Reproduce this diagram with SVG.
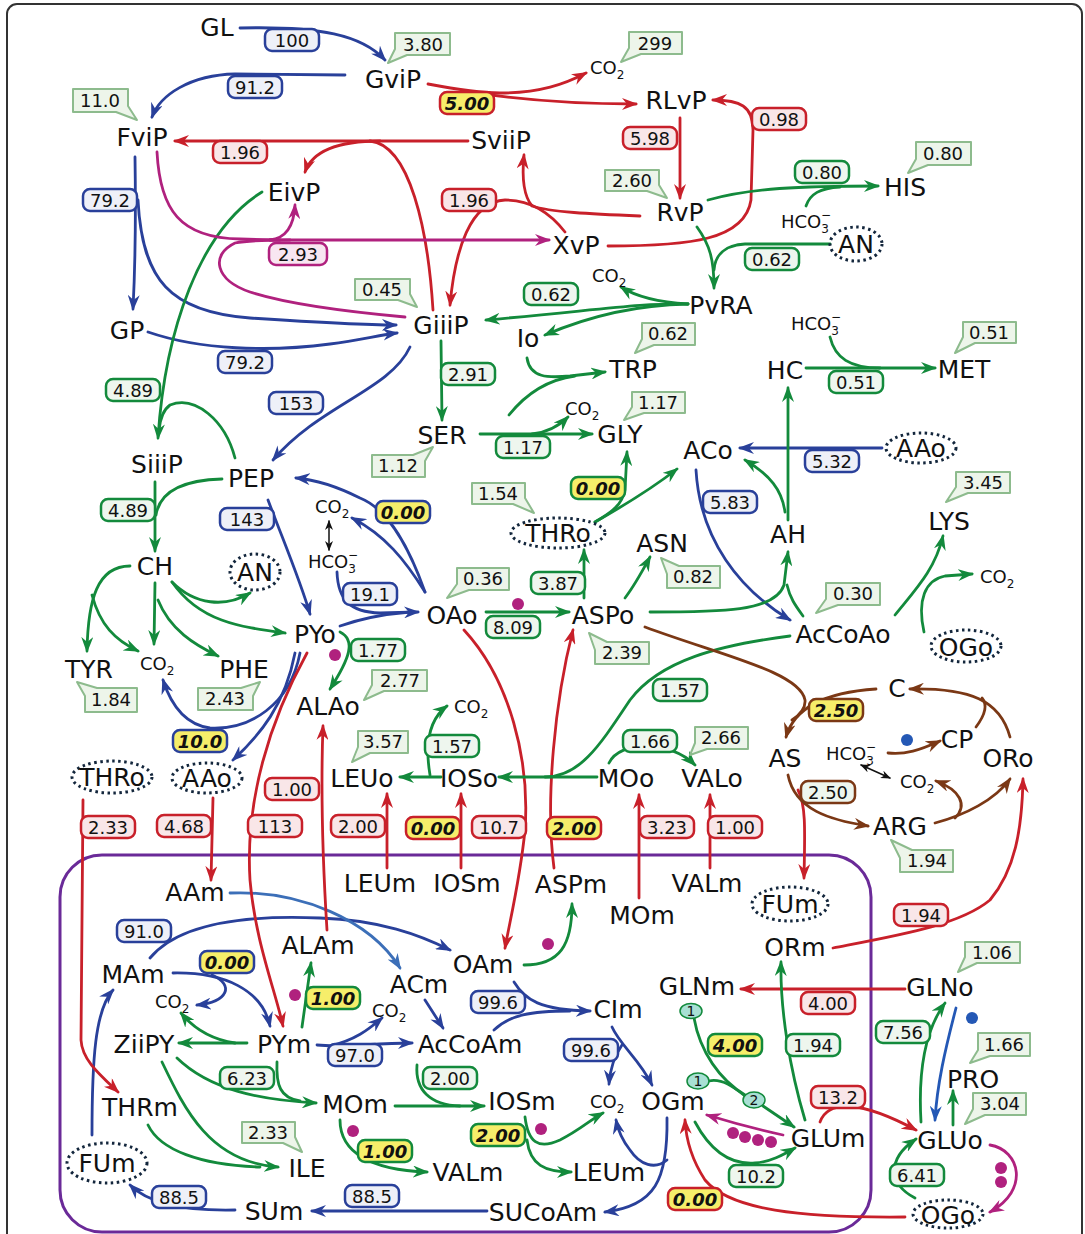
<svg xmlns="http://www.w3.org/2000/svg" width="1085" height="1234" viewBox="0 0 1085 1234">
<defs>
<marker id="ab" viewBox="0 0 16 12" refX="14" refY="6" markerWidth="16" markerHeight="12" markerUnits="userSpaceOnUse" orient="auto"><path d="M0,0 L16,6 L0,12 L5,6 Z" fill="#29409a"/></marker>
<marker id="al" viewBox="0 0 16 12" refX="14" refY="6" markerWidth="16" markerHeight="12" markerUnits="userSpaceOnUse" orient="auto"><path d="M0,0 L16,6 L0,12 L5,6 Z" fill="#3c6fb8"/></marker>
<marker id="ac" viewBox="0 0 16 12" refX="14" refY="6" markerWidth="16" markerHeight="12" markerUnits="userSpaceOnUse" orient="auto"><path d="M0,0 L16,6 L0,12 L5,6 Z" fill="#2458b5"/></marker>
<marker id="ar" viewBox="0 0 16 12" refX="14" refY="6" markerWidth="16" markerHeight="12" markerUnits="userSpaceOnUse" orient="auto"><path d="M0,0 L16,6 L0,12 L5,6 Z" fill="#c8202a"/></marker>
<marker id="ag" viewBox="0 0 16 12" refX="14" refY="6" markerWidth="16" markerHeight="12" markerUnits="userSpaceOnUse" orient="auto"><path d="M0,0 L16,6 L0,12 L5,6 Z" fill="#138a3c"/></marker>
<marker id="am" viewBox="0 0 16 12" refX="14" refY="6" markerWidth="16" markerHeight="12" markerUnits="userSpaceOnUse" orient="auto"><path d="M0,0 L16,6 L0,12 L5,6 Z" fill="#b0217e"/></marker>
<marker id="an" viewBox="0 0 16 12" refX="14" refY="6" markerWidth="16" markerHeight="12" markerUnits="userSpaceOnUse" orient="auto"><path d="M0,0 L16,6 L0,12 L5,6 Z" fill="#7b3815"/></marker>
<marker id="ak" viewBox="0 0 10 8" refX="9" refY="4" markerWidth="10" markerHeight="8" markerUnits="userSpaceOnUse" orient="auto-start-reverse"><path d="M0,0 L10,4 L0,8 L3,4 Z" fill="#111"/></marker>
</defs>
<style>
text{font-family:"DejaVu Sans","Liberation Sans",sans-serif;fill:#111}
.n{font-size:25px;text-anchor:middle}
.s{font-size:18px}
.sub{font-size:12px}
.v{font-size:18px;text-anchor:middle}
.vy{font-size:18px;text-anchor:middle;font-weight:bold;font-style:italic}
.c{fill:none;stroke-width:2.8;stroke-linecap:round}
.cb{stroke:#29409a}
.cl{stroke:#3c6fb8}
.cc{stroke:#2458b5}
.cr{stroke:#c8202a}
.cg{stroke:#138a3c}
.cm{stroke:#b0217e}
.cn{stroke:#7b3815}
.ck{stroke:#111;stroke-width:1.5}
.bb{fill:#eef0f8;stroke:#29409a;stroke-width:2.5}
.br{fill:#f9e6e8;stroke:#c8202a;stroke-width:2.5}
.bg{fill:#eef6ee;stroke:#138a3c;stroke-width:2.5}
.bm{fill:#f8e6f1;stroke:#b0217e;stroke-width:2.5}
.bn{fill:#eef6ee;stroke:#7b3815;stroke-width:2.5}
.by{fill:#f6ee6a}
.co{fill:#edf5ea;stroke:#8dbb8d;stroke-width:2;stroke-linejoin:round}
.de{fill:none;stroke:#13263c;stroke-width:3;stroke-dasharray:2.5 3.5}
.dm{fill:#b0217e}
.db{fill:#2458b5}
.k1{fill:#a8e0d4;stroke:#138a3c;stroke-width:1.5}
.kt{font-size:14px;text-anchor:middle}
</style>
<rect x="7" y="4" width="1075" height="1260" rx="10" fill="#fff" stroke="#333" stroke-width="2"/>
<rect x="60" y="855" width="811" height="377" rx="42" fill="none" stroke="#6a2a98" stroke-width="3"/>

<g id="connectors">
<!-- blue -->
<g class="c cb" marker-end="url(#ab)">
<path d="M240,28 C320,26 362,35 385,60"/>
<path d="M345,75 L235,74 C190,75 160,95 152,117"/>
<path d="M135,157 C136,220 135,270 133,309"/>
<path d="M138,200 C142,280 170,312 250,318 C310,322 360,325 396,325"/>
<path d="M148,332 C200,350 270,352 330,344 C360,340 380,335 397,333"/>
<path d="M410,347 C390,390 320,405 273,460"/>
<path d="M268,500 C285,545 300,580 310,614"/>
<path d="M425,592 C410,550 390,510 360,498 C340,488 320,480 296,478"/>
<path d="M425,592 C405,560 385,535 352,518"/>
<path d="M337,572 C338,600 350,612 380,613 L418,612"/>
<path d="M295,653 C285,705 260,735 233,760"/>
<path d="M300,653 C290,705 250,730 210,728 C188,725 172,708 163,680"/>
<path d="M882,448 L740,448"/>
<path d="M696,470 C700,540 740,590 790,620"/>
<path d="M150,958 C180,922 250,915 320,918 C380,920 420,935 450,950"/>
<path d="M173,973 C225,972 262,990 270,1026"/>
<path d="M212,975 C235,985 228,1002 197,1005"/>
<path d="M317,1045 C345,1048 370,1043 412,1043"/>
<path d="M330,1046 C355,1040 368,1030 382,1018"/>
<path d="M425,1000 L443,1028"/>
<path d="M514,982 C525,1000 540,1010 590,1011"/>
<path d="M612,1027 C620,1045 640,1060 652,1085"/>
<path d="M622,1045 C615,1055 610,1070 609,1084"/>
<path d="M667,1118 C668,1180 655,1206 605,1212"/>
<path d="M667,1160 C655,1170 640,1165 630,1150 C622,1140 618,1130 616,1120"/>
<path d="M487,1211 L312,1211"/>
<path d="M235,1210 C190,1211 150,1205 130,1185"/>
<path d="M92,1135 C92,1060 95,1010 113,990"/>
</g>
<g class="c cb">
<path d="M340,626 C360,619 385,614 410,612"/>
<path d="M494,1030 C510,1015 530,1011 570,1011"/>
</g>
<path class="c cl" marker-end="url(#al)" d="M230,893 C300,890 370,920 400,968"/>
<path class="c cc" marker-end="url(#ac)" d="M956,1008 C945,1050 937,1085 935,1120"/>
<!-- red -->
<g class="c cr" marker-end="url(#ar)">
<path d="M428,84 C460,90 480,93 500,93 C540,93 565,84 586,73"/>
<path d="M470,92 C520,100 580,104 636,104"/>
<path d="M608,246 C690,246 745,240 751,200 L753,130 C753,106 740,100 713,100"/>
<path d="M680,118 L680,198"/>
<path d="M468,141 L175,141"/>
<path d="M380,141 C335,141 312,152 305,172"/>
<path d="M640,216 C590,214 550,212 532,206 C523,195 522,175 524,155"/>
<path d="M565,232 C548,210 528,200 505,200 C470,202 455,250 450,305"/>
<path d="M213,798 L211,880"/>
<path d="M83,800 L81,1040 C82,1060 100,1075 118,1092"/>
<path d="M307,653 C270,720 245,800 250,880 C255,940 275,990 283,1026"/>
<path d="M327,930 C322,850 321,780 323,726"/>
<path d="M387,868 L387,794"/>
<path d="M461,868 L461,794"/>
<path d="M554,868 C545,800 555,700 573,630"/>
<path d="M464,630 C510,680 530,760 525,830 C520,880 510,920 505,948"/>
<path d="M639,898 L639,795"/>
<path d="M710,868 L710,795"/>
<path d="M798,790 C806,805 805,830 804,878"/>
<path d="M833,948 C900,935 960,925 990,900 C1015,870 1022,830 1023,779"/>
<path d="M905,989 L741,989"/>
<path d="M820,1122 C828,1100 860,1100 916,1130"/>
<path d="M905,1217 C800,1218 730,1210 705,1180 C692,1160 686,1140 685,1120"/>
</g>
<path class="c cr" d="M433,310 C428,230 410,145 370,141"/>
<!-- green -->
<g class="c cg" marker-end="url(#ag)">
<path d="M262,192 C200,230 165,330 158,438"/>
<path d="M155,482 L155,551"/>
<path d="M130,566 C97,566 88,600 87,651"/>
<path d="M92,595 C100,625 115,640 138,651"/>
<path d="M155,583 L154,644"/>
<path d="M158,600 C170,630 195,645 218,656"/>
<path d="M172,582 C200,622 240,627 285,633"/>
<path d="M172,582 C195,605 225,608 250,593"/>
<path d="M340,632 C356,640 350,658 330,689"/>
<path d="M708,200 C750,188 800,186 878,186"/>
<path d="M697,227 C710,245 714,260 714,288"/>
<path d="M688,304 C640,303 600,310 486,320"/>
<path d="M688,304 C655,302 635,296 621,287"/>
<path d="M688,304 C630,305 580,320 545,335"/>
<path d="M441,341 L442,420"/>
<path d="M527,358 C530,378 548,378 570,376 L605,372"/>
<path d="M480,434 L592,434"/>
<path d="M532,434 C550,432 560,425 568,417"/>
<path d="M806,368 L935,368"/>
<path d="M788,520 L788,388"/>
<path d="M785,512 C782,490 770,475 745,460"/>
<path d="M595,522 C612,512 622,505 625,490 L627,452"/>
<path d="M595,522 C625,505 650,490 677,469"/>
<path d="M486,612 L569,612"/>
<path d="M584,598 L584,550"/>
<path d="M625,598 C635,585 643,570 650,557"/>
<path d="M650,612 C720,612 775,612 784,585 L788,552"/>
<path d="M895,615 C915,590 935,570 943,536"/>
<path d="M924,632 C917,600 925,580 945,576 L972,574"/>
<path d="M597,777 L499,777"/>
<path d="M441,777 L400,777"/>
<path d="M430,775 C425,745 428,720 447,706"/>
<path d="M609,763 C620,740 670,740 695,765"/>
<path d="M524,965 C560,965 572,945 572,904"/>
<path d="M247,1043 L179,1043"/>
<path d="M235,1043 C215,1040 195,1030 181,1013"/>
<path d="M302,1027 L311,963"/>
<path d="M177,1058 C210,1090 260,1100 316,1103"/>
<path d="M162,1062 C185,1110 210,1162 278,1167"/>
<path d="M395,1106 L484,1106"/>
<path d="M340,1120 C340,1152 370,1170 427,1172"/>
<path d="M525,1117 C528,1142 538,1150 560,1140 C580,1130 590,1120 603,1113"/>
<path d="M527,1140 C530,1165 545,1172 571,1172"/>
<path d="M763,1106 L794,1127"/>
<path d="M805,1120 C790,1070 780,1010 781,962"/>
<path d="M695,1122 C710,1150 730,1165 755,1163 C770,1162 783,1155 795,1148"/>
<path d="M921,1122 C918,1070 925,1030 945,1003"/>
<path d="M953,1125 L953,1091"/>
<path d="M915,1198 C890,1185 885,1160 916,1139"/>
</g>
<g class="c cg">
<path d="M235,458 C225,420 195,395 170,405 C163,410 160,420 159,430"/>
<path d="M222,479 C185,480 160,490 156,515"/>
<path d="M806,206 C810,194 820,188 840,187"/>
<path d="M830,244 L745,244 C725,245 715,255 714,270"/>
<path d="M509,415 C525,395 545,380 575,376"/>
<path d="M830,337 C835,358 850,368 880,368"/>
<path d="M803,616 C795,605 790,598 787,585"/>
<path d="M790,636 C720,645 660,660 630,700 C600,745 580,777 545,777"/>
<path d="M277,1062 C276,1085 280,1098 300,1101"/>
<path d="M148,1125 C160,1150 200,1165 260,1167"/>
<path d="M417,1065 C415,1090 430,1105 460,1106"/>
<path d="M694,1018 C700,1052 720,1080 745,1095"/>
<path d="M709,1081 C722,1078 735,1088 745,1096"/>
</g>
<!-- magenta -->
<g class="c cm">
<path d="M157,152 C160,210 180,238 240,239 L280,240"/>
<path d="M405,317 C350,312 290,305 250,292 C215,280 210,255 235,243 C250,240 270,240 290,240"/>
</g>
<g class="c cm" marker-end="url(#am)">
<path d="M270,240 L549,240"/>
<path d="M270,240 C287,238 294,225 295,205"/>
<path d="M783,1135 C760,1130 730,1122 707,1115"/>
<path d="M990,1145 C1020,1150 1030,1190 990,1212"/>
</g>
<!-- brown -->
<path class="c cn" d="M645,627 C720,655 800,672 805,700 C806,710 798,716 792,720"/>
<path class="c cn" d="M976,727 C985,715 988,705 982,698"/>
<g class="c cn" marker-end="url(#an)">
<path d="M876,689 C830,692 795,705 786,737"/>
<path d="M1010,737 C1000,700 970,688 910,689"/>
<path d="M888,753 C905,755 920,750 940,741"/>
<path d="M788,775 C795,810 830,820 868,826"/>
<path d="M935,823 C965,815 995,800 1010,779"/>
<path d="M955,818 C968,805 960,790 936,781"/>
</g>
<!-- black equilibrium -->
<path class="c ck" marker-start="url(#ak)" marker-end="url(#ak)" d="M329,521 L329,550"/>
<path class="c ck" marker-start="url(#ak)" marker-end="url(#ak)" d="M861,765 L890,778"/>
</g>

<g id="dots">
<circle class="dm" cx="518" cy="604" r="6"/>
<circle class="dm" cx="335" cy="655" r="6"/>
<circle class="dm" cx="548" cy="944" r="6"/>
<circle class="dm" cx="295" cy="995" r="6"/>
<circle class="dm" cx="353" cy="1131" r="6"/>
<circle class="dm" cx="541" cy="1129" r="6"/>
<circle class="dm" cx="733" cy="1133" r="6"/>
<circle class="dm" cx="745" cy="1137" r="6"/>
<circle class="dm" cx="758" cy="1140" r="6"/>
<circle class="dm" cx="771" cy="1142" r="6"/>
<circle class="dm" cx="1001" cy="1168" r="6"/>
<circle class="dm" cx="1001" cy="1182" r="6"/>
<circle class="db" cx="907" cy="740" r="6"/>
<circle class="db" cx="972" cy="1018" r="6"/>
</g>

<g id="stoich">
<ellipse class="k1" cx="691" cy="1011" rx="11" ry="7.5"/><text class="kt" x="691" y="1016">1</text>
<ellipse class="k1" cx="698" cy="1081" rx="11" ry="8"/><text class="kt" x="698" y="1086">1</text>
<ellipse class="k1" cx="754" cy="1100" rx="11" ry="8"/><text class="kt" x="754" y="1105">2</text>
</g>

<g id="fluxes">
<rect class="bb" x="265" y="29" width="54" height="22" rx="7"/><text class="v" x="292" y="46.5">100</text>
<rect class="bb" x="228" y="76" width="54" height="22" rx="7"/><text class="v" x="255" y="93.5">91.2</text>
<rect class="bb" x="83" y="189" width="54" height="22" rx="7"/><text class="v" x="110" y="206.5">79.2</text>
<rect class="bb" x="218" y="351" width="54" height="22" rx="7"/><text class="v" x="245" y="368.5">79.2</text>
<rect class="bb" x="269" y="392" width="54" height="22" rx="7"/><text class="v" x="296" y="409.5">153</text>
<rect class="bb" x="220" y="508" width="54" height="22" rx="7"/><text class="v" x="247" y="525.5">143</text>
<rect class="bb" x="343" y="583" width="54" height="22" rx="7"/><text class="v" x="370" y="600.5">19.1</text>
<rect class="bb" x="805" y="450" width="54" height="22" rx="7"/><text class="v" x="832" y="467.5">5.32</text>
<rect class="bb" x="703" y="491" width="54" height="22" rx="7"/><text class="v" x="730" y="508.5">5.83</text>
<rect class="bb" x="117" y="920" width="54" height="22" rx="7"/><text class="v" x="144" y="937.5">91.0</text>
<rect class="bb" x="328" y="1044" width="54" height="22" rx="7"/><text class="v" x="355" y="1061.5">97.0</text>
<rect class="bb" x="471" y="991" width="54" height="22" rx="7"/><text class="v" x="498" y="1008.5">99.6</text>
<rect class="bb" x="564" y="1039" width="54" height="22" rx="7"/><text class="v" x="591" y="1056.5">99.6</text>
<rect class="bb" x="152" y="1186" width="54" height="22" rx="7"/><text class="v" x="179" y="1203.5">88.5</text>
<rect class="bb" x="345" y="1185" width="54" height="22" rx="7"/><text class="v" x="372" y="1202.5">88.5</text>
<rect class="bb by" x="376" y="501" width="54" height="22" rx="7"/><text class="vy" x="403" y="518.5">0.00</text>
<rect class="bb by" x="173" y="730" width="54" height="22" rx="7"/><text class="vy" x="200" y="747.5">10.0</text>
<rect class="bb by" x="200" y="951" width="54" height="22" rx="7"/><text class="vy" x="227" y="968.5">0.00</text>

<rect class="br" x="213" y="141" width="54" height="22" rx="7"/><text class="v" x="240" y="158.5">1.96</text>
<rect class="br" x="623" y="127" width="54" height="22" rx="7"/><text class="v" x="650" y="144.5">5.98</text>
<rect class="br" x="752" y="108" width="54" height="22" rx="7"/><text class="v" x="779" y="125.5">0.98</text>
<rect class="br" x="442" y="189" width="54" height="22" rx="7"/><text class="v" x="469" y="206.5">1.96</text>
<rect class="br" x="265" y="778" width="54" height="22" rx="7"/><text class="v" x="292" y="795.5">1.00</text>
<rect class="br" x="81" y="816" width="54" height="22" rx="7"/><text class="v" x="108" y="833.5">2.33</text>
<rect class="br" x="157" y="815" width="54" height="22" rx="7"/><text class="v" x="184" y="832.5">4.68</text>
<rect class="br" x="248" y="815" width="54" height="22" rx="7"/><text class="v" x="275" y="832.5">113</text>
<rect class="br" x="331" y="815" width="54" height="22" rx="7"/><text class="v" x="358" y="832.5">2.00</text>
<rect class="br" x="472" y="816" width="54" height="22" rx="7"/><text class="v" x="499" y="833.5">10.7</text>
<rect class="br" x="640" y="816" width="54" height="22" rx="7"/><text class="v" x="667" y="833.5">3.23</text>
<rect class="br" x="708" y="816" width="54" height="22" rx="7"/><text class="v" x="735" y="833.5">1.00</text>
<rect class="br" x="894" y="904" width="54" height="22" rx="7"/><text class="v" x="921" y="921.5">1.94</text>
<rect class="br" x="801" y="992" width="54" height="22" rx="7"/><text class="v" x="828" y="1009.5">4.00</text>
<rect class="br" x="811" y="1086" width="54" height="22" rx="7"/><text class="v" x="838" y="1103.5">13.2</text>
<rect class="br by" x="440" y="92" width="54" height="22" rx="7"/><text class="vy" x="467" y="109.5">5.00</text>
<rect class="br by" x="406" y="817" width="54" height="22" rx="7"/><text class="vy" x="433" y="834.5">0.00</text>
<rect class="br by" x="547" y="817" width="54" height="22" rx="7"/><text class="vy" x="574" y="834.5">2.00</text>
<rect class="br by" x="668" y="1188" width="54" height="22" rx="7"/><text class="vy" x="695" y="1205.5">0.00</text>

<rect class="bg" x="795" y="161" width="54" height="22" rx="7"/><text class="v" x="822" y="178.5">0.80</text>
<rect class="bg" x="745" y="248" width="54" height="22" rx="7"/><text class="v" x="772" y="265.5">0.62</text>
<rect class="bg" x="524" y="283" width="54" height="22" rx="7"/><text class="v" x="551" y="300.5">0.62</text>
<rect class="bg" x="829" y="371" width="54" height="22" rx="7"/><text class="v" x="856" y="388.5">0.51</text>
<rect class="bg" x="106" y="379" width="54" height="22" rx="7"/><text class="v" x="133" y="396.5">4.89</text>
<rect class="bg" x="441" y="363" width="54" height="22" rx="7"/><text class="v" x="468" y="380.5">2.91</text>
<rect class="bg" x="496" y="436" width="54" height="22" rx="7"/><text class="v" x="523" y="453.5">1.17</text>
<rect class="bg" x="101" y="499" width="54" height="22" rx="7"/><text class="v" x="128" y="516.5">4.89</text>
<rect class="bg" x="531" y="572" width="54" height="22" rx="7"/><text class="v" x="558" y="589.5">3.87</text>
<rect class="bg" x="486" y="616" width="54" height="22" rx="7"/><text class="v" x="513" y="633.5">8.09</text>
<rect class="bg" x="351" y="639" width="54" height="22" rx="7"/><text class="v" x="378" y="656.5">1.77</text>
<rect class="bg" x="653" y="679" width="54" height="22" rx="7"/><text class="v" x="680" y="696.5">1.57</text>
<rect class="bg" x="425" y="735" width="54" height="22" rx="7"/><text class="v" x="452" y="752.5">1.57</text>
<rect class="bg" x="623" y="730" width="54" height="22" rx="7"/><text class="v" x="650" y="747.5">1.66</text>
<rect class="bg" x="220" y="1067" width="54" height="22" rx="7"/><text class="v" x="247" y="1084.5">6.23</text>
<rect class="bg" x="423" y="1067" width="54" height="22" rx="7"/><text class="v" x="450" y="1084.5">2.00</text>
<rect class="bg" x="786" y="1034" width="54" height="22" rx="7"/><text class="v" x="813" y="1051.5">1.94</text>
<rect class="bg" x="876" y="1021" width="54" height="22" rx="7"/><text class="v" x="903" y="1038.5">7.56</text>
<rect class="bg" x="729" y="1165" width="54" height="22" rx="7"/><text class="v" x="756" y="1182.5">10.2</text>
<rect class="bg" x="890" y="1164" width="54" height="22" rx="7"/><text class="v" x="917" y="1181.5">6.41</text>
<rect class="bg by" x="571" y="477" width="54" height="22" rx="7"/><text class="vy" x="598" y="494.5">0.00</text>
<rect class="bg by" x="306" y="987" width="54" height="22" rx="7"/><text class="vy" x="333" y="1004.5">1.00</text>
<rect class="bg by" x="358" y="1140" width="54" height="22" rx="7"/><text class="vy" x="385" y="1157.5">1.00</text>
<rect class="bg by" x="471" y="1124" width="54" height="22" rx="7"/><text class="vy" x="498" y="1141.5">2.00</text>
<rect class="bg by" x="708" y="1034" width="54" height="22" rx="7"/><text class="vy" x="735" y="1051.5">4.00</text>

<rect class="bm" x="269" y="243" width="58" height="22" rx="7"/><text class="v" x="298" y="260.5">2.93</text>
<rect class="bn" x="801" y="781" width="54" height="22" rx="7"/><text class="v" x="828" y="798.5">2.50</text>
<rect class="bn by" x="809" y="699" width="54" height="22" rx="7"/><text class="vy" x="836" y="716.5">2.50</text>
</g>

<g id="callouts">
<path class="co" d="M73,89 H128 V106 L137,120 L116,112 H73 Z"/><text class="v" x="100" y="107">11.0</text>
<path class="co" d="M395,33 H450 V55 H407 L388,63 L395,49 Z"/><text class="v" x="423" y="51">3.80</text>
<path class="co" d="M629,32 H682 V54 H641 L621,62 L629,48 Z"/><text class="v" x="655" y="50">299</text>
<path class="co" d="M605,170 H659 V185 L667,198 L647,191 H605 Z"/><text class="v" x="632" y="187">2.60</text>
<path class="co" d="M916,142 H971 V165 H928 L908,173 L916,159 Z"/><text class="v" x="943" y="160">0.80</text>
<path class="co" d="M355,279 H410 V294 L417,307 L398,300 H355 Z"/><text class="v" x="382" y="296">0.45</text>
<path class="co" d="M642,323 H695 V345 H654 L635,353 L642,339 Z"/><text class="v" x="668" y="340">0.62</text>
<path class="co" d="M963,322 H1016 V343 H975 L955,353 L963,337 Z"/><text class="v" x="989" y="339">0.51</text>
<path class="co" d="M632,392 H685 V413 H644 L624,420 L632,407 Z"/><text class="v" x="658" y="409">1.17</text>
<path class="co" d="M372,455 H413 L433,447 L425,461 V477 H372 Z"/><text class="v" x="398" y="472">1.12</text>
<path class="co" d="M472,483 H525 V498 L534,513 L513,504 H472 Z"/><text class="v" x="498" y="500">1.54</text>
<path class="co" d="M956,472 H1010 V493 H968 L946,502 L956,487 Z"/><text class="v" x="983" y="489">3.45</text>
<path class="co" d="M457,568 H509 V590 H469 L447,598 L457,584 Z"/><text class="v" x="483" y="585">0.36</text>
<path class="co" d="M667,574 L661,558 L679,566 H720 V588 H667 Z"/><text class="v" x="693" y="583">0.82</text>
<path class="co" d="M826,583 H880 V605 H838 L816,613 L826,599 Z"/><text class="v" x="853" y="600">0.30</text>
<path class="co" d="M372,670 H427 V691 H384 L364,700 L372,685 Z"/><text class="v" x="400" y="687">2.77</text>
<path class="co" d="M595,650 L589,633 L607,642 H649 V664 H595 Z"/><text class="v" x="622" y="659">2.39</text>
<path class="co" d="M85,696 L77,682 L97,688 H137 V712 H85 Z"/><text class="v" x="111" y="706">1.84</text>
<path class="co" d="M198,688 H241 L260,682 L253,696 V710 H198 Z"/><text class="v" x="225" y="705">2.43</text>
<path class="co" d="M358,731 H408 V753 H370 L352,762 L358,747 Z"/><text class="v" x="383" y="748">3.57</text>
<path class="co" d="M695,727 H748 V749 H707 L690,755 L695,743 Z"/><text class="v" x="721" y="744">2.66</text>
<path class="co" d="M900,858 L891,840 L912,850 H953 V872 H900 Z"/><text class="v" x="927" y="867">1.94</text>
<path class="co" d="M242,1122 H295 V1137 L302,1152 L283,1143 H242 Z"/><text class="v" x="268" y="1139">2.33</text>
<path class="co" d="M965,942 H1020 V963 H977 L958,972 L965,957 Z"/><text class="v" x="992" y="959">1.06</text>
<path class="co" d="M978,1033 H1030 V1056 H990 L970,1063 L978,1050 Z"/><text class="v" x="1004" y="1051">1.66</text>
<path class="co" d="M973,1093 H1026 V1115 H985 L965,1124 L973,1109 Z"/><text class="v" x="1000" y="1110">3.04</text>
</g>

<g id="pools">
<ellipse class="de" cx="856" cy="244" rx="26" ry="17"/>
<ellipse class="de" cx="921" cy="448" rx="35" ry="15"/>
<ellipse class="de" cx="558" cy="533" rx="47" ry="15"/>
<ellipse class="de" cx="255" cy="572" rx="25" ry="18"/>
<ellipse class="de" cx="966" cy="646" rx="35" ry="16"/>
<ellipse class="de" cx="112" cy="777" rx="40" ry="16"/>
<ellipse class="de" cx="207" cy="778" rx="35" ry="15"/>
<ellipse class="de" cx="790" cy="904" rx="38" ry="17"/>
<ellipse class="de" cx="948" cy="1214" rx="35" ry="14"/>
<ellipse class="de" cx="107" cy="1163" rx="40" ry="20"/>
</g>

<g id="nodes">
<g id="n-GL"><text class="n" x="217" y="36">GL</text></g>
<g id="n-GviP"><text class="n" x="393" y="88">GviP</text></g>
<g id="n-FviP"><text class="n" x="142" y="146">FviP</text></g>
<g id="n-SviiP"><text class="n" x="501" y="149">SviiP</text></g>
<g id="n-RLvP"><text class="n" x="676" y="109">RLvP</text></g>
<g id="n-EivP"><text class="n" x="294" y="201">EivP</text></g>
<g id="n-RvP"><text class="n" x="680" y="221">RvP</text></g>
<g id="n-XvP"><text class="n" x="576" y="254">XvP</text></g>
<g id="n-HIS"><text class="n" x="905" y="196">HIS</text></g>
<g id="n-AN1"><text class="n" x="856" y="253">AN</text></g>
<g id="n-PvRA"><text class="n" x="721" y="314">PvRA</text></g>
<g id="n-GiiiP"><text class="n" x="441" y="334">GiiiP</text></g>
<g id="n-GP"><text class="n" x="127" y="339">GP</text></g>
<g id="n-Io"><text class="n" x="528" y="347">Io</text></g>
<g id="n-TRP"><text class="n" x="633" y="378">TRP</text></g>
<g id="n-HC"><text class="n" x="785" y="379">HC</text></g>
<g id="n-MET"><text class="n" x="964" y="378">MET</text></g>
<g id="n-SER"><text class="n" x="442" y="444">SER</text></g>
<g id="n-GLY"><text class="n" x="620" y="443">GLY</text></g>
<g id="n-ACo"><text class="n" x="708" y="459">ACo</text></g>
<g id="n-AAo1"><text class="n" x="921" y="457">AAo</text></g>
<g id="n-SiiiP"><text class="n" x="157" y="473">SiiiP</text></g>
<g id="n-PEP"><text class="n" x="251" y="487">PEP</text></g>
<g id="n-THRo1"><text class="n" x="558" y="542">THRo</text></g>
<g id="n-ASN"><text class="n" x="662" y="552">ASN</text></g>
<g id="n-AH"><text class="n" x="788" y="543">AH</text></g>
<g id="n-LYS"><text class="n" x="949" y="530">LYS</text></g>
<g id="n-CH"><text class="n" x="155" y="575">CH</text></g>
<g id="n-AN2"><text class="n" x="255" y="581">AN</text></g>
<g id="n-PYo"><text class="n" x="315" y="643">PYo</text></g>
<g id="n-OAo"><text class="n" x="452" y="624">OAo</text></g>
<g id="n-ASPo"><text class="n" x="603" y="624">ASPo</text></g>
<g id="n-AcCoAo"><text class="n" x="843" y="643">AcCoAo</text></g>
<g id="n-OGo1"><text class="n" x="966" y="656">OGo</text></g>
<g id="n-TYR"><text class="n" x="89" y="678">TYR</text></g>
<g id="n-PHE"><text class="n" x="244" y="678">PHE</text></g>
<g id="n-ALAo"><text class="n" x="328" y="715">ALAo</text></g>
<g id="n-LEUo"><text class="n" x="362" y="787">LEUo</text></g>
<g id="n-IOSo"><text class="n" x="469" y="787">IOSo</text></g>
<g id="n-MOo"><text class="n" x="626" y="787">MOo</text></g>
<g id="n-VALo"><text class="n" x="712" y="787">VALo</text></g>
<g id="n-C"><text class="n" x="897" y="697">C</text></g>
<g id="n-AS"><text class="n" x="785" y="767">AS</text></g>
<g id="n-CP"><text class="n" x="957" y="748">CP</text></g>
<g id="n-ORo"><text class="n" x="1008" y="767">ORo</text></g>
<g id="n-ARG"><text class="n" x="900" y="835">ARG</text></g>
<g id="n-THRo2"><text class="n" x="112" y="786">THRo</text></g>
<g id="n-AAo2"><text class="n" x="207" y="787">AAo</text></g>
<g id="n-AAm"><text class="n" x="195" y="901">AAm</text></g>
<g id="n-LEUm1"><text class="n" x="380" y="892">LEUm</text></g>
<g id="n-IOSm1"><text class="n" x="467" y="892">IOSm</text></g>
<g id="n-ASPm"><text class="n" x="571" y="893">ASPm</text></g>
<g id="n-MOm1"><text class="n" x="642" y="924">MOm</text></g>
<g id="n-VALm1"><text class="n" x="707" y="892">VALm</text></g>
<g id="n-FUm1"><text class="n" x="790" y="913">FUm</text></g>
<g id="n-ORm"><text class="n" x="795" y="956">ORm</text></g>
<g id="n-GLNm"><text class="n" x="697" y="995">GLNm</text></g>
<g id="n-GLNo"><text class="n" x="940" y="996">GLNo</text></g>
<g id="n-PRO"><text class="n" x="973" y="1088">PRO</text></g>
<g id="n-GLUo"><text class="n" x="950" y="1149">GLUo</text></g>
<g id="n-GLUm"><text class="n" x="828" y="1147">GLUm</text></g>
<g id="n-OGo2"><text class="n" x="948" y="1224">OGo</text></g>
<g id="n-MAm"><text class="n" x="133" y="983">MAm</text></g>
<g id="n-ZiiPY"><text class="n" x="144" y="1053">ZiiPY</text></g>
<g id="n-PYm"><text class="n" x="284" y="1053">PYm</text></g>
<g id="n-ALAm"><text class="n" x="318" y="954">ALAm</text></g>
<g id="n-THRm"><text class="n" x="140" y="1116">THRm</text></g>
<g id="n-FUm2"><text class="n" x="107" y="1172">FUm</text></g>
<g id="n-ILE"><text class="n" x="307" y="1177">ILE</text></g>
<g id="n-SUm"><text class="n" x="274" y="1220">SUm</text></g>
<g id="n-OAm"><text class="n" x="483" y="973">OAm</text></g>
<g id="n-ACm"><text class="n" x="419" y="993">ACm</text></g>
<g id="n-AcCoAm"><text class="n" x="470" y="1053">AcCoAm</text></g>
<g id="n-CIm"><text class="n" x="618" y="1018">CIm</text></g>
<g id="n-MOm2"><text class="n" x="355" y="1113">MOm</text></g>
<g id="n-IOSm2"><text class="n" x="522" y="1110">IOSm</text></g>
<g id="n-OGm"><text class="n" x="673" y="1110">OGm</text></g>
<g id="n-VALm2"><text class="n" x="468" y="1181">VALm</text></g>
<g id="n-LEUm2"><text class="n" x="609" y="1181">LEUm</text></g>
<g id="n-SUCoAm"><text class="n" x="543" y="1221">SUCoAm</text></g>
</g>

<g id="cofactors">
<text class="s" x="590" y="74">CO<tspan class="sub" dy="5">2</tspan></text>
<text class="s" x="592" y="282">CO<tspan class="sub" dy="5">2</tspan></text>
<text class="s" x="565" y="415">CO<tspan class="sub" dy="5">2</tspan></text>
<text class="s" x="315" y="513">CO<tspan class="sub" dy="5">2</tspan></text>
<text class="s" x="980" y="583">CO<tspan class="sub" dy="5">2</tspan></text>
<text class="s" x="140" y="670">CO<tspan class="sub" dy="5">2</tspan></text>
<text class="s" x="454" y="713">CO<tspan class="sub" dy="5">2</tspan></text>
<text class="s" x="900" y="788">CO<tspan class="sub" dy="5">2</tspan></text>
<text class="s" x="155" y="1008">CO<tspan class="sub" dy="5">2</tspan></text>
<text class="s" x="372" y="1017">CO<tspan class="sub" dy="5">2</tspan></text>
<text class="s" x="590" y="1108">CO<tspan class="sub" dy="5">2</tspan></text>
<text class="s" x="308" y="568">HCO<tspan class="sub" dy="5">3</tspan><tspan class="sub" dx="-8" dy="-14">−</tspan></text>
<text class="s" x="781" y="228">HCO<tspan class="sub" dy="5">3</tspan><tspan class="sub" dx="-8" dy="-14">−</tspan></text>
<text class="s" x="791" y="330">HCO<tspan class="sub" dy="5">3</tspan><tspan class="sub" dx="-8" dy="-14">−</tspan></text>
<text class="s" x="826" y="760">HCO<tspan class="sub" dy="5">3</tspan><tspan class="sub" dx="-8" dy="-14">−</tspan></text>
</g>
</svg>
